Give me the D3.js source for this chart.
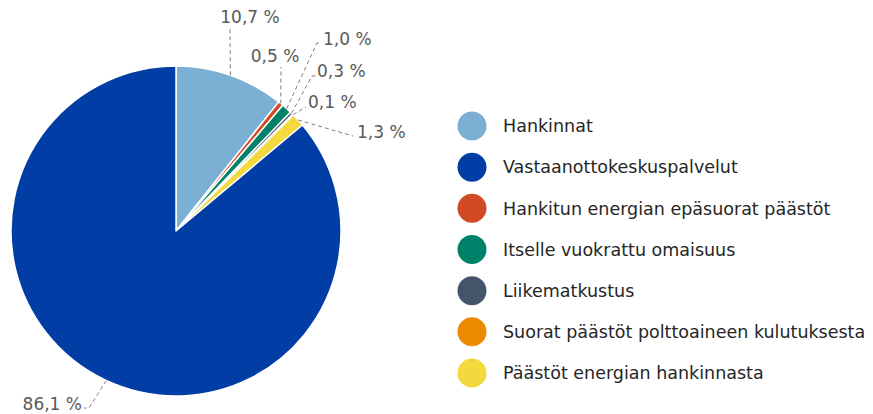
<!DOCTYPE html>
<html>
<head>
<meta charset="utf-8">
<script src="https://cdn.jsdelivr.net/npm/d3@7"></script>
<style>
  body { margin: 0; background: #fff; }
  svg { display: block; font-family: 'DejaVu Sans', sans-serif; }
</style>
</head>
<body>
<div id="chart-area"></div>
<script>
// legend order
var categories = [
  'Hankinnat',
  'Vastaanottokeskuspalvelut',
  'Hankitun energian epäsuorat päästöt',
  'Itselle vuokrattu omaisuus',
  'Liikematkustus',
  'Suorat päästöt polttoaineen kulutuksesta',
  'Päästöt energian hankinnasta'
];
var values = [10.7, 86.1, 0.5, 1.0, 0.3, 0.1, 1.3];
var colors = ['#7bafd4', '#003da5', '#d04a23', '#00826a', '#44546a', '#ed8b00', '#f3d83e'];

// order of slices clockwise from 12 o'clock
var sliceOrder = [0, 2, 3, 4, 5, 6, 1];

var width = 873;
var height = 414;
var cx = 176, cy = 231, radius = 165;

// where each label sits (text x, baseline y, anchor) and leader bends
var labelLayout = [
  {tx: 250, ty: 23, anchor: 'middle', bend: [[230, 28]]},
  {tx: 82, ty: 410, anchor: 'end', bend: [[89, 408], [84, 408]]},
  {tx: 275, ty: 62, anchor: 'middle', bend: [[281, 67]]},
  {tx: 323, ty: 45, anchor: 'start', bend: [[317, 43], [321, 43]]},
  {tx: 317, ty: 77, anchor: 'start', bend: [[312, 76], [316, 76]]},
  {tx: 308, ty: 108, anchor: 'start', bend: [[306, 107]]},
  {tx: 357, ty: 138, anchor: 'start', bend: [[353, 136]]}
];

var data = sliceOrder.map(function (i) {
  return {idx: i, name: categories[i], value: values[i], color: colors[i]};
});

var svg = d3.select('#chart-area')
  .append('svg')
  .attr('width', width)
  .attr('height', height);

var g = svg.append('g')
  .attr('transform', 'translate(' + cx + ', ' + cy + ')');

var pie = d3.pie()
  .sort(null)
  .value(function (d) { return d.value; });

var arc = d3.arc()
  .innerRadius(0)
  .outerRadius(radius);

var arcs = pie(data);

g.selectAll('path.slice')
  .data(arcs)
  .enter()
  .append('path')
  .attr('class', 'slice')
  .attr('d', arc)
  .attr('fill', function (d) { return d.data.color; })
  .attr('stroke', '#fff')
  .attr('stroke-width', 1.5)
  .attr('stroke-linejoin', 'round');

// leader lines + labels
var fmt = function (v) { return d3.format('.1f')(v).replace('.', ',') + ' %'; };

arcs.forEach(function (d) {
  var lay = labelLayout[d.data.idx];
  var mid = (d.startAngle + d.endAngle) / 2;
  var p0 = [cx + radius * Math.sin(mid), cy - radius * Math.cos(mid)];
  var pts = [p0].concat(lay.bend);
  svg.append('path')
    .attr('d', d3.line()(pts))
    .attr('fill', 'none')
    .attr('stroke', '#7f7f7f')
    .attr('stroke-width', 1)
    .attr('stroke-dasharray', '4,3');
  svg.append('text')
    .attr('x', lay.tx)
    .attr('y', lay.ty)
    .attr('text-anchor', lay.anchor)
    .attr('font-size', '17px')
    .attr('fill', '#595959')
    .text(fmt(d.data.value));
});

// legend
var legendY = d3.scalePoint()
  .domain(categories)
  .range([126, 373]);

var legend = svg.append('g')
  .selectAll('g')
  .data(categories)
  .enter()
  .append('g')
  .attr('transform', function (d) { return 'translate(472, ' + legendY(d) + ')'; });

legend.append('circle')
  .attr('r', 14.5)
  .attr('fill', function (d, i) { return colors[i]; });

legend.append('text')
  .attr('x', 31)
  .attr('y', 0)
  .attr('dy', '0.36em')
  .attr('font-size', '17.5px')
  .attr('fill', '#262626')
  .text(function (d) { return d; });
</script>
</body>
</html>
